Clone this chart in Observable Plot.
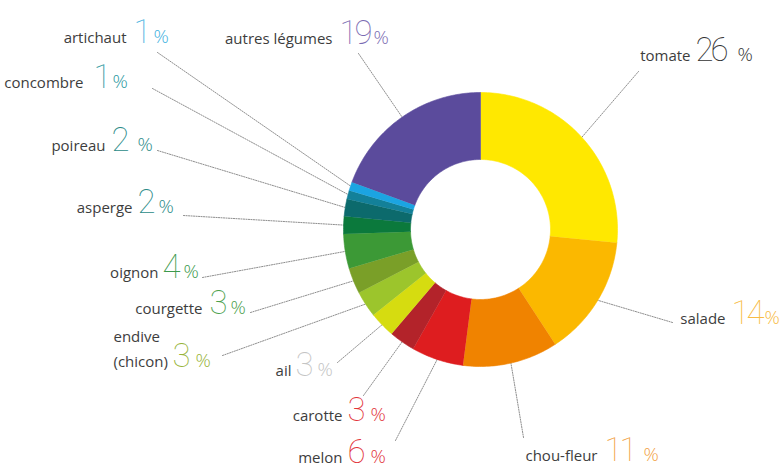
<!DOCTYPE html>
<html><head><meta charset="utf-8">
<script src="https://cdn.jsdelivr.net/npm/d3@7"></script>
<script src="https://cdn.jsdelivr.net/npm/@observablehq/plot@0.6"></script>
<style>body{margin:0;background:#fff;overflow:hidden}</style>
</head><body><div id="chart"></div>
<script>
// ---- data ----
const names = ["tomate","salade","chou-fleur","melon","carotte","ail","endive\n(chicon)","courgette","oignon","asperge","poireau","concombre","artichaut","autres légumes"];
const values = [26,14,11,6,3,3,3,3,4,2,2,1,1,19];
const sliceColors = ["#ffe800","#fbb800","#f08300","#de1d1f","#b3232a","#d6dc10","#9cc52c","#7a9f28","#3c9936","#0b793c","#0c6a6c","#138099","#1ba4e2","#5b4b9c"];
const labelColors = ["#333333","#f7bb45","#f2a246","#e2343a","#e2343a","#c4c4c4","#98b43a","#4ba04c","#3c9a4c","#2b8b88","#2b8b88","#2a98a0","#3fb1e0","#7a6bb2"];

// ---- layout (annotation placement, pixels) ----
const nameX = [690,725,597,342,342,291,113,202,158,132,105,83,126,332];
const numX  = [695,731,604,347,347,295,172,209,162,137,111,93,133,339];
const pctX  = [737,764,643,370,370,317,195,230,183,158,137,112,153,373];
const baseY = [60,323,460,462,420,375,366,313,277,212,150,87,42,43];
const leadX = [638,672,523,395,363,337,222,250,202,183,157,152,157,358];
const leadY = [71,322,437,440,395,362,355,312,277,215,150,88,52,53];
const W = 782, H = 469, cx = 480, cy = 229, R = 137, r0 = 70;

// ---- derived geometry from values ----
const arcs = d3.pie().sort(null).value(d => d)(values);
const pt = (a, rad) => [cx + rad * Math.sin(a), cy - rad * Math.cos(a)];
const slicePts = [];
arcs.forEach((a, i) => {
  const n = Math.max(4, Math.ceil((a.endAngle - a.startAngle) * 180 / Math.PI));
  for (let k = 0; k <= n; k++) {
    const t = a.startAngle + (a.endAngle - a.startAngle) * k / n;
    const [x, y] = pt(t, R); slicePts.push({name: names[i], x, y});
  }
  for (let k = n; k >= 0; k--) {
    const t = a.startAngle + (a.endAngle - a.startAngle) * k / n;
    const [x, y] = pt(t, r0); slicePts.push({name: names[i], x, y});
  }
});
const leaders = [];
arcs.forEach((a, i) => {
  const m = (a.startAngle + a.endAngle) / 2;
  const [x, y] = pt(m, R - 1);
  leaders.push({name: names[i], x: leadX[i], y: leadY[i]});
  leaders.push({name: names[i], x, y});
});
const labels = names.map((n, i) => ({name: n, v: values[i], i}));
const single = labels.filter(d => !d.name.includes("\n"));
const multi = labels.filter(d => d.name.includes("\n"));

const nameFont = {fontFamily: "'Open Sans', sans-serif", fontSize: 15, fill: "#3d3d3d", lineAnchor: "bottom", lineHeight: 1.65};
const chart = Plot.plot({
  width: W, height: H,
  margin: 0,
  x: {domain: [0, W], range: [0, W], axis: null},
  y: {domain: [0, H], range: [0, H], axis: null},
  color: {domain: names, range: sliceColors},
  style: {background: "#fff"},
  marks: [
    Plot.line(leaders, {x: "x", y: "y", z: "name", stroke: "#8e8e8e", strokeWidth: 1, strokeDasharray: "1.2,1.3"}),
    Plot.line(slicePts, {x: "x", y: "y", z: "name", fill: "name", stroke: "name", strokeWidth: 0.6}),
    Plot.text(single, {x: d => nameX[d.i], y: d => baseY[d.i], text: "name", textAnchor: "end", ...nameFont}),
    Plot.text(multi, {x: d => nameX[d.i], y: d => baseY[d.i], text: "name", textAnchor: "start", ...nameFont}),
    Plot.text(labels, {x: d => numX[d.i], y: d => baseY[d.i], text: d => String(d.v), textAnchor: "start", lineAnchor: "bottom",
      fill: d => labelColors[d.i], fontFamily: "Roboto, sans-serif", fontWeight: 100, fontSize: 33}),
    Plot.text(labels, {x: d => pctX[d.i], y: d => baseY[d.i], text: () => "%", textAnchor: "start", lineAnchor: "bottom",
      fill: d => labelColors[d.i], fontFamily: "'Open Sans', sans-serif", fontWeight: 300, fontSize: 19})
  ]
});
document.getElementById("chart").appendChild(chart);
// tighten the big numbers (condensed look of the original typeface)
d3.select(chart).selectAll("text").filter(function() { return /^\d+$/.test(this.textContent); })
  .attr("letter-spacing", "-3").style("letter-spacing", "-3px");
</script>
</body></html>
